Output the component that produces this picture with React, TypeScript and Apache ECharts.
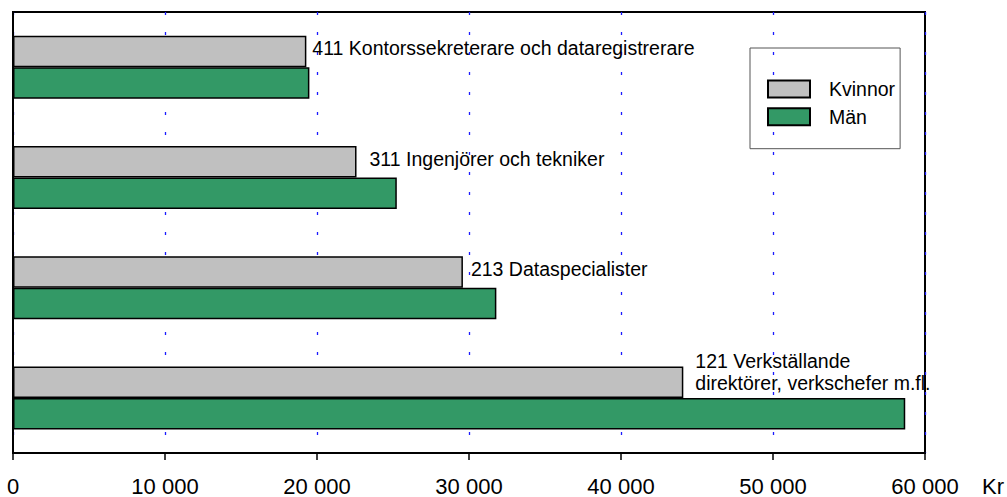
import React, { useEffect, useRef } from "react";
import * as echarts from "echarts";

const categories = [
  "411 Kontorssekreterare och dataregistrerare",
  "311 Ingenjörer och tekniker",
  "213 Dataspecialister",
  "121 Verkställande\ndirektörer, verkschefer m.fl.",
];
const kvinnor = [19300, 22600, 29600, 44100];
const man = [19500, 25250, 31800, 58700];
const seriesNames = ["Kvinnor", "Män"];
const axisMin = 0;
const axisMax = 60000;
const axisStep = 10000;

const labelLayout = [
  { distance: 6, offset: [0, -3] },
  { distance: 13, offset: [0, -3] },
  { distance: 8, offset: [0, -3] },
  { distance: 12, offset: [0, -10] },
];

const FONT = "'Liberation Sans', Arial, Helvetica, sans-serif";

function fmt(v: number) {
  return String(v).replace(/\B(?=(\d{3})+(?!\d))/g, " ");
}

export default function App() {
  const ref = useRef<HTMLDivElement>(null);
  useEffect(() => {
    if (!ref.current) return;
    const chart = echarts.init(ref.current, undefined, { renderer: "svg" });
    chart.setOption({
      animation: false,
      backgroundColor: "#ffffff",
      textStyle: { fontFamily: FONT },
      grid: {
        left: 13,
        right: 82,
        top: 12,
        bottom: 44,
        show: true,
        borderColor: "#000",
        borderWidth: 2,
        containLabel: false,
      },
      legend: {
        orient: "vertical",
        left: 750,
        top: 48,
        data: seriesNames,
        icon: "rect",
        borderColor: "#555",
        borderWidth: 1,
        padding: [31, 5, 22, 17],
        itemWidth: 42,
        itemHeight: 17,
        itemGap: 7.7,
        textStyle: {
          fontFamily: FONT,
          fontSize: 19.5,
          lineHeight: 17,
          color: "#000",
          padding: [0, 0, 0, 14],
        },
      },
      xAxis: {
        type: "value",
        min: axisMin,
        max: axisMax,
        interval: axisStep,
        name: "Kr",
        nameLocation: "end",
        nameGap: 57,
        nameTextStyle: {
          fontFamily: FONT,
          fontSize: 22,
          color: "#000",
          verticalAlign: "top",
          padding: [22, 0, 0, 0],
        },
        axisLine: { show: true, lineStyle: { color: "#000", width: 2 } },
        axisTick: { show: true, length: 7, lineStyle: { color: "#000", width: 1.5 } },
        axisLabel: {
          fontFamily: FONT,
          fontSize: 22,
          color: "#000",
          margin: 22,
          formatter: (v: number) => fmt(v),
        },
        splitLine: {
          show: true,
          lineStyle: { color: "#1a1aff", width: 1.3, type: [3, 17] },
        },
      },
      yAxis: {
        type: "category",
        data: categories,
        inverse: true,
        axisLine: { show: true, lineStyle: { color: "#000", width: 2 } },
        axisTick: { show: false },
        axisLabel: { show: false },
        splitLine: { show: false },
      },
      series: [
        {
          name: seriesNames[0],
          type: "bar",
          barWidth: 31.5,
          barGap: "0%",
          itemStyle: { color: "#c0c0c0", borderColor: "#000", borderWidth: 1.5 },
          data: kvinnor.map((v, i) => ({
            value: v,
            label: {
              show: true,
              position: "right",
              distance: labelLayout[i].distance,
              offset: labelLayout[i].offset,
              formatter: () => categories[i],
            },
          })),
          label: {
            fontFamily: FONT,
            fontSize: 19.5,
            lineHeight: 22,
            color: "#000",
          },
        },
        {
          name: seriesNames[1],
          type: "bar",
          barWidth: 31.5,
          barGap: "0%",
          itemStyle: { color: "#339966", borderColor: "#000", borderWidth: 1.5 },
          data: man,
        },
      ],
    });
    return () => chart.dispose();
  }, []);
  return (
    <div
      ref={ref}
      style={{ position: "fixed", left: 0, top: 0, width: 1007, height: 497, background: "#fff" }}
    />
  );
}
